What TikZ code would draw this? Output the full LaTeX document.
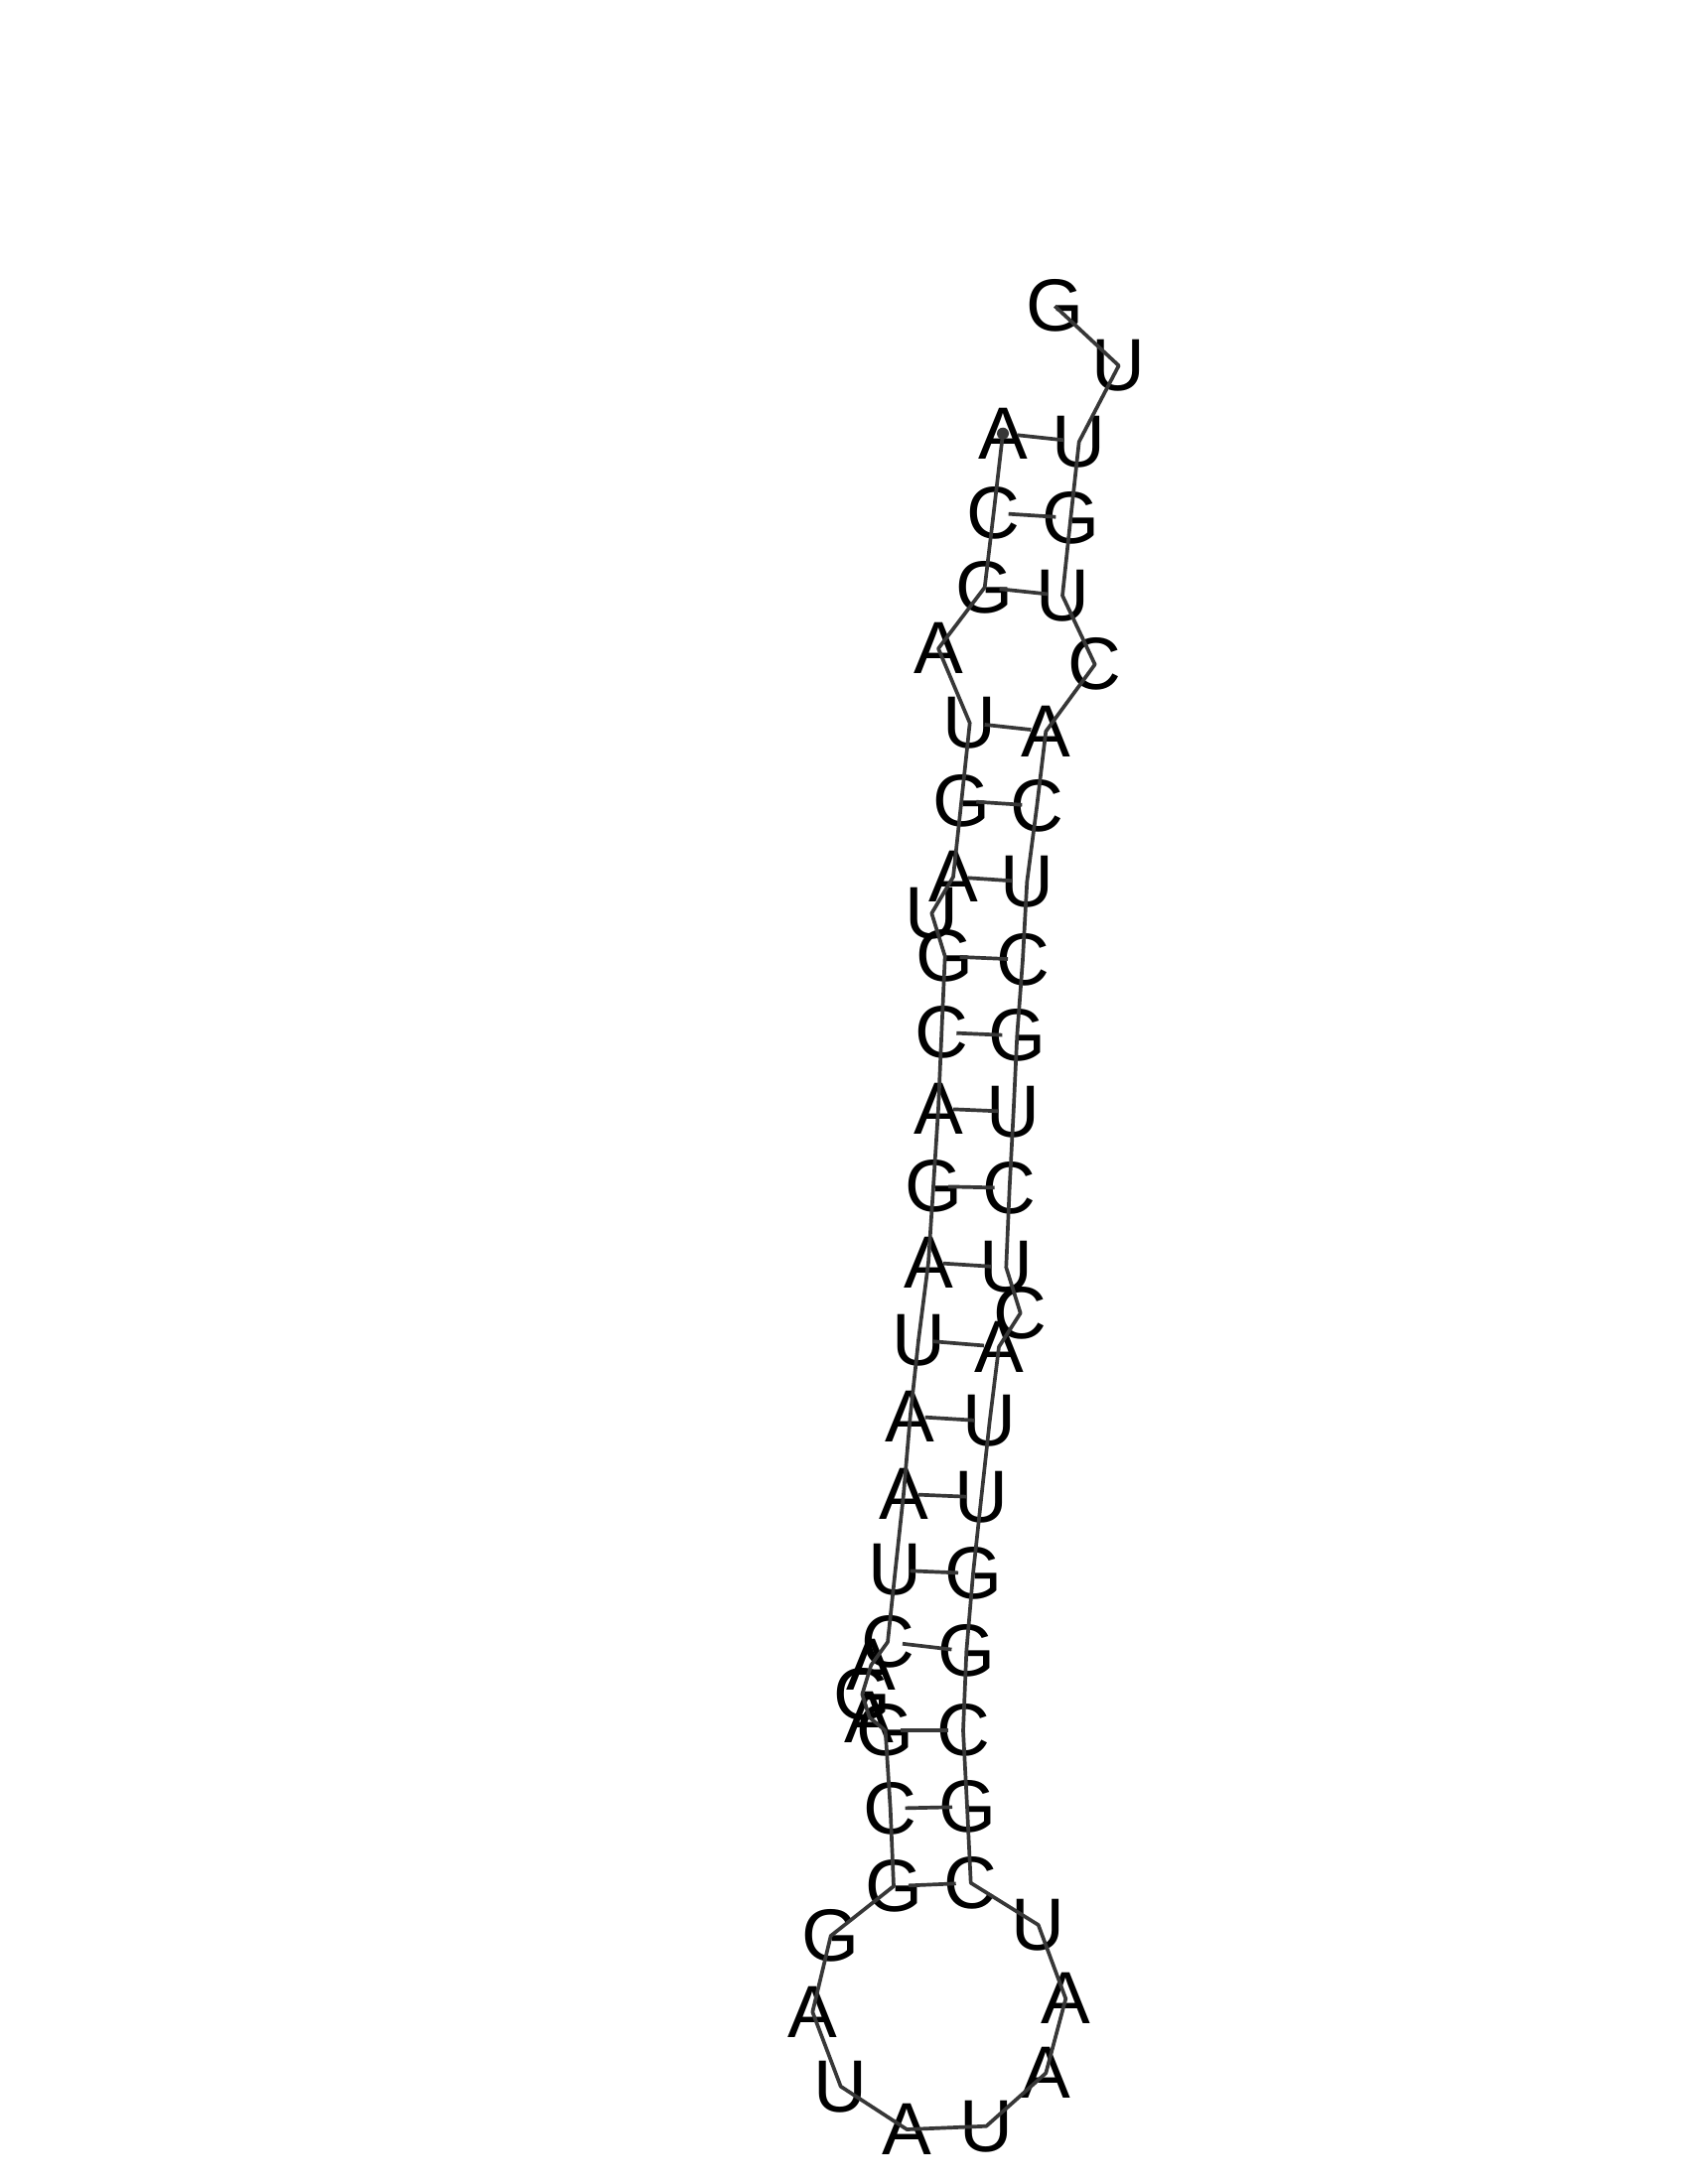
\documentclass[tikz,border=0pt]{standalone}
\usepackage{fontspec}
\setmainfont{Liberation Sans}
\usepackage{xcolor}
\usepackage{tikz}
\definecolor{rnaline}{RGB}{55,55,55}

\begin{document}
\begin{tikzpicture}[x=0.01cm,y=-0.01cm,
    nuc/.style={inner sep=0pt, font=\fontsize{21.2}{24}\selectfont},
    backbone/.style={rnaline, line width=1.05pt, line join=round},
    bpair/.style={rnaline, line width=1.05pt, shorten <=0.15cm, shorten >=0.15cm}]
\useasboundingbox (0,0) rectangle (1700,2200);
% nucleotides
\foreach \i/\b/\x/\y in {1/A/1010/436.7, 2/C/1000.7/516.7, 3/G/991.7/591.7,
    4/A/945/653.3, 5/U/976.7/728.3, 6/G/968.3/806.7, 7/A/960/883.3,
    8/U/938.3/920, 9/G/951.7/963.3, 10/C/948.3/1040, 11/A/945/1116.7,
    12/G/940/1195, 13/A/935/1271.7, 14/U/925/1350, 15/A/916.7/1426.7,
    16/A/910/1505, 17/U/901.7/1581.7, 18/C/894/1654, 19/A/877.3/1677.3,
    20/G/868.3/1706.7, 21/A/875.7/1730, 22/G/891.7/1743.3, 23/C/896.7/1821.7,
    24/G/900/1900, 25/G/836.7/1950, 26/A/818.3/2026.7, 27/U/846.7/2101.7,
    28/A/913.3/2145, 29/U/993.3/2141.7, 30/A/1053.3/2088.3, 31/A/1073.3/2013.3,
    32/U/1045.7/1939, 33/C/977.7/1896.7, 34/G/974/1820, 35/C/970/1743.3,
    36/G/973.3/1663.3, 37/G/980/1585, 38/U/988.3/1508.3, 39/U/996.7/1431.7,
    40/A/1006/1356.7, 41/C/1027.7/1322.7, 42/U/1013.3/1276.7, 43/C/1016.7/1196.7,
    44/U/1020.7/1120, 45/G/1024.3/1043.3, 46/C/1030/966.7, 47/U/1034.3/888.3,
    48/C/1044.3/811.7, 49/A/1053.3/736.7, 50/C/1102.7/669.3, 51/U/1070/600,
    52/G/1078.3/521.7, 53/U/1086.7/445, 54/U/1126.7/368.3, 55/G/1062.3/308.3} {
    \node[nuc] (n\i) at (\x,\y) {\b};
}
% backbone
\draw[backbone] (n1.center) \foreach \i in {2,...,55} { -- (n\i.center) };
% base pairs
\foreach \p/\q in {1/53, 2/52, 3/51, 5/49, 6/48, 7/47, 9/46, 10/45, 11/44,
    12/43, 13/42, 14/40, 15/39, 16/38, 17/37, 18/36, 22/35, 23/34, 24/33} {
    \draw[bpair] (n\p.center) -- (n\q.center);
}
% 5' end
\fill[rnaline] (n1.center) circle (0.06cm);
\end{tikzpicture}
\end{document}
